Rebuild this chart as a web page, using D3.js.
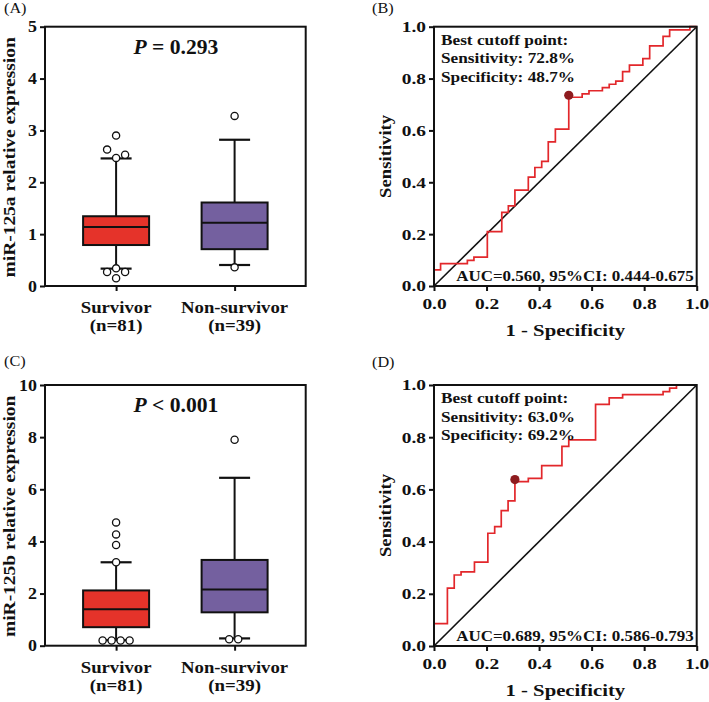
<!DOCTYPE html>
<html><head><meta charset="utf-8">
<script src="https://cdn.jsdelivr.net/npm/d3@7"></script>
<style>
body{margin:0;background:#fff}
text{font-family:"Liberation Serif","Times New Roman",serif;font-weight:bold;fill:#111}
</style>
</head><body><svg id="c" width="709" height="702"></svg>
<script>
// ---------- data ----------
const categories = ["Survivor", "Non-survivor"];
const groupN = ["(n=81)", "(n=39)"];
const boxColors = ["#E5332A", "#74609F"];

// Panel A: miR-125a
const aQ1 = [0.79, 0.71];
const aMedian = [1.14, 1.22];
const aQ3 = [1.345, 1.61];
const aWhiskerLow = [0.335, 0.405];
const aWhiskerHigh = [2.46, 2.82];
const aOutSurvivor = [2.90, 2.63, 2.53, 2.47, 0.34, 0.27, 0.27, 0.15];
const aOutSurvivorSlot = [0, -1, 1, 0, 0, -1, 1, 0];
const aOutNon = [3.28, 0.36];
const aOutNonSlot = [0, 0];
const aTicks = [0, 1, 2, 3, 4, 5];

// Panel C: miR-125b
const cQ1 = [0.71, 1.28];
const cMedian = [1.40, 2.16];
const cQ3 = [2.12, 3.29];
const cWhiskerLow = [0.21, 0.28];
const cWhiskerHigh = [3.20, 6.44];
const cOutSurvivor = [4.73, 4.27, 3.86, 3.20, 0.2, 0.2, 0.2, 0.2];
const cOutSurvivorSlot = [0, 0, 0, 0, -1.5, -0.5, 0.5, 1.5];
const cOutNon = [7.90, 0.25, 0.25];
const cOutNonSlot = [0, -0.6, 0.4];
const cTicks = [0, 2, 4, 6, 8, 10];

// Panel B ROC (top of each vertical rise)
const bFpr = [0, 0, 0.025, 0.127, 0.152, 0.203, 0.258, 0.283, 0.308, 0.359, 0.384, 0.410, 0.435, 0.462, 0.513,
  0.564, 0.590, 0.641, 0.667, 0.692, 0.718, 0.744, 0.795, 0.821, 0.872, 0.897, 0.974, 1.0];
const bTpr = [0, 0.062, 0.086, 0.099, 0.111, 0.210, 0.284, 0.309, 0.370, 0.420, 0.457, 0.481, 0.556, 0.605, 0.728,
  0.741, 0.753, 0.765, 0.778, 0.790, 0.827, 0.852, 0.877, 0.926, 0.963, 0.988, 1.0, 1.0];
const bCutoff = [0.513, 0.728];
const bTextLines = ["Best cutoff point:", "Sensitivity: 72.8%", "Specificity: 48.7%"];
const bAuc = "AUC=0.560, 95%CI: 0.444-0.675";

// Panel D ROC
const dFpr = [0, 0, 0.051, 0.077, 0.103, 0.154, 0.205, 0.231, 0.256, 0.282, 0.308, 0.359, 0.410, 0.487, 0.513,
  0.615, 0.615, 0.667, 0.718, 0.872, 0.897, 0.923, 1.0];
const dTpr = [0, 0.086, 0.222, 0.272, 0.284, 0.321, 0.432, 0.457, 0.519, 0.556, 0.630, 0.642, 0.691, 0.765, 0.790,
  0.802, 0.926, 0.951, 0.963, 0.975, 0.988, 1.0, 1.0];
const dCutoff = [0.308, 0.630];
const dTextLines = ["Best cutoff point:", "Sensitivity: 63.0%", "Specificity: 69.2%"];
const dAuc = "AUC=0.689, 95%CI: 0.586-0.793";

const rocTicks = [0, 0.2, 0.4, 0.6, 0.8, 1.0];

// ---------- drawing ----------
const svg = d3.select("#c");
svg.append("rect").attr("width", 709).attr("height", 702).attr("fill", "#fff");

// widen glyphs horizontally about each text's anchor point
function stretch(sel, sx) {
  sel.each(function () {
    const t = d3.select(this);
    const x = +t.attr("x") || 0;
    const prev = t.attr("transform") || "";
    t.attr("transform", `${prev} translate(${x},0) scale(${sx},1) translate(${-x},0)`);
  });
  return sel;
}

function panelLabel(txt, x, y) {
  svg.append("text").attr("x", x).attr("y", y).style("font-weight", "normal")
    .style("font-size", "15px").text(txt).call(stretch, 1.08);
}

function styleAxis(g, size, sx) {
  g.select(".domain").remove();
  g.selectAll(".tick line").attr("stroke", "#111").attr("stroke-width", 2);
  g.selectAll(".tick text").style("font-size", size + "px").attr("fill", "#111")
    .style("font-family", '"Liberation Serif","Times New Roman",serif').style("font-weight", "bold")
    .call(stretch, sx);
}

function boxPanel(o) {
  const g = svg.append("g");
  const y = d3.scaleLinear().domain([0, o.ymax]).range([o.y1, o.y0]);
  const x = d3.scalePoint().domain(categories).range([o.x0, o.x1]).padding(0.6);
  const bw = 66, cw = 31, slotW = 9;

  categories.forEach((c, i) => {
    const cx = x(c);
    const gg = g.append("g");
    gg.append("line").attr("x1", cx).attr("x2", cx).attr("y1", y(o.wlo[i])).attr("y2", y(o.q1[i]))
      .attr("stroke", "#111").attr("stroke-width", 2);
    gg.append("line").attr("x1", cx).attr("x2", cx).attr("y1", y(o.q3[i])).attr("y2", y(o.whi[i]))
      .attr("stroke", "#111").attr("stroke-width", 2);
    [o.wlo[i], o.whi[i]].forEach(v => {
      gg.append("line").attr("x1", cx - cw / 2).attr("x2", cx + cw / 2).attr("y1", y(v)).attr("y2", y(v))
        .attr("stroke", "#111").attr("stroke-width", 2.2);
    });
    gg.append("rect").attr("x", cx - bw / 2).attr("width", bw).attr("y", y(o.q3[i]))
      .attr("height", y(o.q1[i]) - y(o.q3[i])).attr("fill", boxColors[i])
      .attr("stroke", "#111").attr("stroke-width", 2);
    gg.append("line").attr("x1", cx - bw / 2).attr("x2", cx + bw / 2).attr("y1", y(o.med[i])).attr("y2", y(o.med[i]))
      .attr("stroke", "#111").attr("stroke-width", 2);
    const outs = o.outs[i], slots = o.slots[i];
    outs.forEach((v, k) => {
      gg.append("circle").attr("cx", cx + slots[k] * slotW).attr("cy", y(v)).attr("r", 3.6)
        .attr("fill", "#fff").attr("stroke", "#111").attr("stroke-width", 1.3);
    });
  });

  g.append("rect").attr("x", o.x0).attr("y", o.y0).attr("width", o.x1 - o.x0).attr("height", o.y1 - o.y0)
    .attr("fill", "none").attr("stroke", "#111").attr("stroke-width", 2);

  const ya = g.append("g").attr("transform", `translate(${o.x0},0)`)
    .call(d3.axisLeft(y).tickValues(o.ticks).tickSize(5).tickPadding(3).tickFormat(d3.format("d")));
  styleAxis(ya, 16, 1.12);
  const xa = g.append("g").attr("transform", `translate(0,${o.y1})`)
    .call(d3.axisBottom(x).tickSize(5).tickFormat(""));
  styleAxis(xa, 17, 1);
  categories.forEach((c, i) => {
    g.append("text").attr("x", x(c)).attr("y", o.y1 + 27).attr("text-anchor", "middle")
      .style("font-size", "17.5px").text(c).call(stretch, 1.07);
    g.append("text").attr("x", x(c)).attr("y", o.y1 + 45.5).attr("text-anchor", "middle")
      .style("font-size", "17.5px").text(groupN[i]).call(stretch, 1.08);
  });
  g.append("text").attr("transform", `translate(${o.x0 - 30},${(o.y0 + o.y1) / 2 + 1}) rotate(-90)`)
    .attr("text-anchor", "middle").style("font-size", "16.5px").text(o.ytitle).call(stretch, 1.18);
  const pt = g.append("text").attr("x", (o.x0 + o.x1) / 2 + 0.5).attr("y", o.y0 + 27)
    .attr("text-anchor", "middle").style("font-size", "20px");
  pt.append("tspan").style("font-style", "italic").text("P");
  pt.append("tspan").text(o.ptext);
  pt.call(stretch, 1.08);
}

function rocPanel(o) {
  const g = svg.append("g");
  const x = d3.scaleLinear().domain([0, 1]).range([o.x0, o.x1]);
  const y = d3.scaleLinear().domain([0, 1]).range([o.y1, o.y0]);

  g.append("line").attr("x1", x(0)).attr("y1", y(0)).attr("x2", x(1)).attr("y2", y(1))
    .attr("stroke", "#111").attr("stroke-width", 1.6);
  const pts = o.fpr.map((f, i) => [f, o.tpr[i]]);
  g.append("path").datum(pts)
    .attr("d", d3.line().x(d => x(d[0])).y(d => y(d[1])).curve(d3.curveStepAfter))
    .attr("fill", "none").attr("stroke", "#E2272B").attr("stroke-width", 1.7);

  g.append("rect").attr("x", o.x0).attr("y", o.y0).attr("width", o.x1 - o.x0).attr("height", o.y1 - o.y0)
    .attr("fill", "none").attr("stroke", "#111").attr("stroke-width", 2);

  g.append("circle").attr("cx", x(o.cut[0])).attr("cy", y(o.cut[1]) - 2).attr("r", 4.6)
    .attr("fill", "#8E1B1F");

  const ya = g.append("g").attr("transform", `translate(${o.x0},0)`)
    .call(d3.axisLeft(y).tickValues(rocTicks).tickSize(5).tickPadding(3).tickFormat(d3.format(".1f")));
  styleAxis(ya, 15.5, 1.25);
  const xa = g.append("g").attr("transform", `translate(0,${o.y1})`)
    .call(d3.axisBottom(x).tickValues(rocTicks).tickSize(5).tickPadding(7).tickFormat(d3.format(".1f")));
  styleAxis(xa, 15.5, 1.25);

  o.lines.forEach((t, i) => {
    g.append("text").attr("x", o.x0 + 7).attr("y", o.y0 + 18 + i * 18.7)
      .style("font-size", "14.5px").text(t).call(stretch, 1.19);
  });
  g.append("text").attr("x", o.x1 - 3).attr("y", o.y1 - 5).attr("text-anchor", "end")
    .style("font-size", "14.5px").text(o.auc).call(stretch, 1.17);

  g.append("text").attr("x", (o.x0 + o.x1) / 2).attr("y", o.y1 + 50).attr("text-anchor", "middle")
    .style("font-size", "17px").text("1 - Specificity").call(stretch, 1.22);
  g.append("text").attr("transform", `translate(${o.x0 - 43},${(o.y0 + o.y1) / 2}) rotate(-90)`)
    .attr("text-anchor", "middle").style("font-size", "17px").text("Sensitivity").call(stretch, 1.1);
}

boxPanel({x0: 45, x1: 305.7, y0: 26.7, y1: 286, ymax: 5, ticks: aTicks,
  q1: aQ1, med: aMedian, q3: aQ3, wlo: aWhiskerLow, whi: aWhiskerHigh,
  outs: [aOutSurvivor, aOutNon], slots: [aOutSurvivorSlot, aOutNonSlot],
  ytitle: "miR-125a relative expression", ptext: " = 0.293"});
boxPanel({x0: 45, x1: 305.7, y0: 385, y1: 645.7, ymax: 10, ticks: cTicks,
  q1: cQ1, med: cMedian, q3: cQ3, wlo: cWhiskerLow, whi: cWhiskerHigh,
  outs: [cOutSurvivor, cOutNon], slots: [cOutSurvivorSlot, cOutNonSlot],
  ytitle: "miR-125b relative expression", ptext: " < 0.001"});
rocPanel({x0: 434, x1: 696.7, y0: 26.7, y1: 286, fpr: bFpr, tpr: bTpr, cut: bCutoff,
  lines: bTextLines, auc: bAuc});
rocPanel({x0: 434, x1: 696.7, y0: 385, y1: 646, fpr: dFpr, tpr: dTpr, cut: dCutoff,
  lines: dTextLines, auc: dAuc});

panelLabel("(A)", 4, 13);
panelLabel("(B)", 372, 13);
panelLabel("(C)", 4, 366);
panelLabel("(D)", 372, 367);
</script>
</body></html>
